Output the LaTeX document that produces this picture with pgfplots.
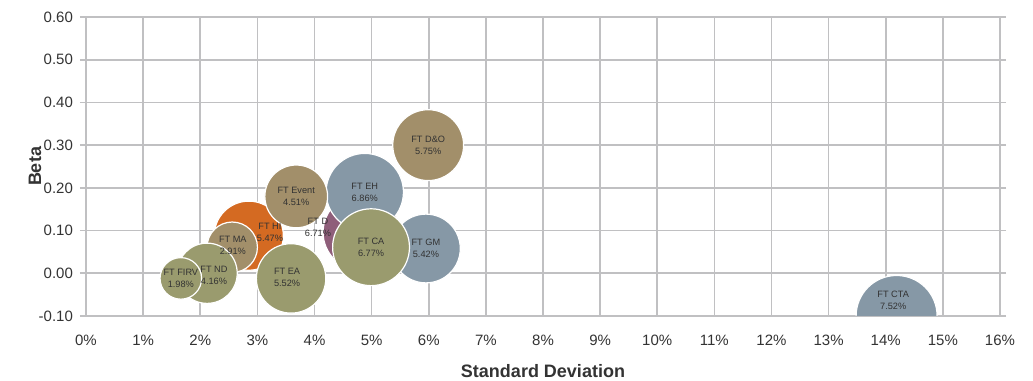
\documentclass[border=0pt]{standalone}
\usepackage{fontspec}
\setmainfont{Liberation Sans}
\usepackage{pgfplots}
\pgfplotsset{compat=1.18}
\usepackage{pgfplotstable}
\definecolor{gridgray}{HTML}{C0C0C2}
\definecolor{cOlive}{HTML}{9A9B6E}
\definecolor{cTan}{HTML}{A28F6A}
\definecolor{cBlue}{HTML}{8698A6}
\definecolor{cOrange}{HTML}{D46A22}
\definecolor{cPurple}{HTML}{8F5E7A}
\definecolor{txt}{HTML}{333333}

\pgfplotstableread[col sep=comma]{
x,y,v,c
4.82,0.096,6.71,pu
5.99,0.30,5.75,tn
5.95,0.058,5.42,bl
4.88,0.19,6.86,bl
2.85,0.088,5.47,or
4.99,0.061,6.77,ol
3.59,-0.012,5.52,ol
3.68,0.18,4.51,tn
2.56,0.061,2.91,tn
2.12,0.0,4.16,ol
1.66,-0.012,1.98,ol
14.19,-0.10,7.52,bl
}\bubbles

\begin{document}
\begin{tikzpicture}
\begin{axis}[
  scale only axis,
  width=457pt, height=149.5pt,
  xmin=0, xmax=16, ymin=-0.1, ymax=0.6,
  xtick={0,1,...,16},
  ytick={-0.1,0,0.1,0.2,0.3,0.4,0.5,0.6},
  /pgf/number format/assume math mode=true,
  xticklabel={\pgfmathprintnumber{\tick}\%},
  yticklabel style={/pgf/number format/fixed, /pgf/number format/fixed zerofill, /pgf/number format/precision=2, anchor=east},
  ticklabel style={font=\fontsize{7.5}{9}\selectfont, text=txt},
  grid=major,
  grid style={draw=gridgray, line width=0.8pt},
  axis line style={draw=gridgray, line width=0.8pt},
  tick align=outside,
  major tick length=3pt,
  xtick style={draw=none},
  ytick style={draw=gridgray, line width=0.8pt},
  xticklabel style={anchor=center, yshift=-9pt},
  xlabel={Standard Deviation},
  ylabel={Beta},
  label style={font=\fontsize{9}{11}\selectfont\bfseries, text=txt},
  xlabel style={at={(axis description cs:0.5,0)}, anchor=center, yshift=-27.5pt},
  ylabel style={at={(axis description cs:0,0.5)}, anchor=center, yshift=25.5pt},
  clip marker paths=true,
]
\addplot[scatter, only marks, mark=*,
  scatter src=explicit symbolic,
  scatter/classes={
    ol={mark=*, fill=cOlive, draw=white},
    tn={mark=*, fill=cTan, draw=white},
    bl={mark=*, fill=cBlue, draw=white},
    or={mark=*, fill=cOrange, draw=white},
    pu={mark=*, fill=cPurple, draw=white}},
  line width=0.6pt,
  visualization depends on={7.385*sqrt(\thisrow{v}) \as \rad},
  scatter/@pre marker code/.append style={/tikz/mark size=\rad pt},
] table[x=x, y=y, meta=c] {\bubbles};

\addplot[draw=none, mark=none,
  point meta=explicit symbolic,
  nodes near coords,
  every node near coord/.append style={anchor=center, align=center,
    font=\fontsize{4.6}{5.8}\selectfont, text=txt, inner sep=0pt},
] coordinates {
  (5.99,0.30) [{FT D\&O\\5.75\%}]
  (5.95,0.058) [{FT GM\\5.42\%}]
  (4.88,0.19) [{FT EH\\6.86\%}]
  (4.06,0.108) [{FT D\\6.71\%}]
  (3.22,0.096) [{FT HI\\5.47\%}]
  (4.99,0.061) [{FT CA\\6.77\%}]
  (3.52,-0.01) [{FT EA\\5.52\%}]
  (3.68,0.18) [{FT Event\\4.51\%}]
  (2.57,0.065) [{FT MA\\2.91\%}]
  (2.24,-0.005) [{FT ND\\4.16\%}]
  (1.66,-0.012) [{FT FIRV\\1.98\%}]
  (14.13,-0.063) [{FT CTA\\7.52\%}]
};
\end{axis}
\pgfresetboundingbox
\path (current axis.south west) ++(-43pt,-32.5pt) (current axis.north east) ++(16.5pt,8.5pt);
\end{tikzpicture}
\end{document}
